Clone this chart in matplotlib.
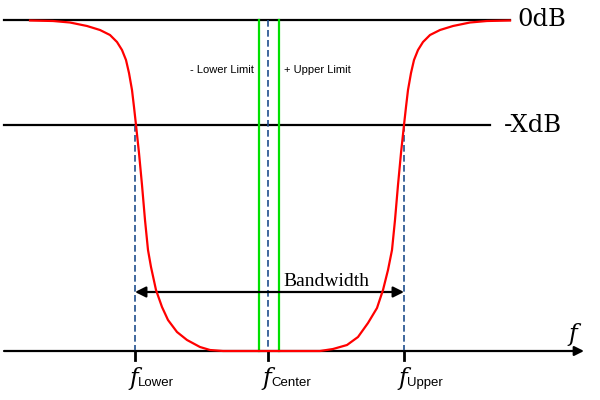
import matplotlib
matplotlib.use("Agg")
import matplotlib.pyplot as plt

# response curve (pixel-like units, y grows downwards)
curve_x = [30, 53, 70, 87, 100, 110, 117, 122, 126, 129, 132, 134, 136, 139,
           142, 145, 148, 151, 156, 162, 168, 177, 187, 200, 210, 223,
           320, 333, 347, 358, 368, 377, 383, 388, 392, 395, 398, 401,
           404, 406, 408, 411, 414, 418, 423, 430, 440, 453, 470, 487, 510]
curve_y = [20.5, 21, 22.5, 26, 30, 35, 42, 50, 60, 73, 90, 107, 125, 153,
           185, 220, 250, 267, 290, 307, 320, 332, 340, 347, 350, 351,
           351, 349, 345, 337, 323, 308, 290, 270, 250, 220, 185, 153,
           125, 107, 90, 73, 60, 50, 42, 35, 30, 26, 22.5, 21, 20.5]

level_names = ["0dB", "-XdB"]
level_y = [20, 125]
level_end = [510, 490]

freq_names = ["Lower", "Center", "Upper"]
freq_x = [135, 268, 404]
limit_x = [259, 279]
limit_names = ["- Lower Limit", "+ Upper Limit"]
axis_y = 351

fig = plt.figure(figsize=(6, 4), dpi=100)
ax = fig.add_axes([0, 0, 1, 1])
ax.set_xlim(0, 600)
ax.set_ylim(400, 0)
ax.axis("off")

# horizontal level lines
for name, y, x1 in zip(level_names, level_y, level_end):
    ax.plot([4, x1], [y, y], color="black", lw=1.6, zorder=1)
ax.text(517, level_y[0], level_names[0], family="DejaVu Serif", fontsize=17.5,
        ha="left", va="center")
ax.text(504, level_y[1], level_names[1], family="DejaVu Serif", fontsize=17.5,
        ha="left", va="center")

# frequency axis with arrow
ax.annotate("", xy=(584, axis_y), xytext=(4, axis_y),
            arrowprops=dict(arrowstyle="-|>", color="black", lw=1.6,
                            mutation_scale=14, shrinkA=0, shrinkB=0))
ax.text(573, 334, "f", family="DejaVu Serif", style="italic", fontsize=17,
        ha="center", va="center")

# limit lines
for x in limit_x:
    ax.plot([x, x], [level_y[0], axis_y], color="#00e000", lw=1.6, zorder=2)
ax.text(254, 70, limit_names[0], family="Liberation Sans", fontsize=8,
        ha="right", va="center")
ax.text(284, 70, limit_names[1], family="Liberation Sans", fontsize=8,
        ha="left", va="center")

# dashed frequency markers, ticks and labels
for name, x in zip(freq_names, freq_x):
    top = level_y[0] if name == "Center" else level_y[1]
    ax.plot([x, x], [top, axis_y], color="#1f4e8c", lw=1.2,
            dashes=(4, 2), zorder=3)
    ax.plot([x, x], [axis_y, 360], color="black", lw=2, zorder=3)
    ax.text(x + 3, 385, "f", family="DejaVu Serif", style="italic",
            fontsize=17, ha="right", va="baseline")
    ax.text(x + 3, 386, name, family="Liberation Sans", fontsize=9.5,
            ha="left", va="baseline")

# the response curve
ax.plot(curve_x, curve_y, color="red", lw=1.6, zorder=4,
        solid_joinstyle="round")

# bandwidth arrow
ax.annotate("", xy=(freq_x[0], 292), xytext=(freq_x[2], 292),
            arrowprops=dict(arrowstyle="<|-|>", color="black", lw=1.6,
                            mutation_scale=16, shrinkA=0, shrinkB=0))
ax.text(326, 281, "Bandwidth", family="Liberation Serif", fontsize=14,
        ha="center", va="center")

fig.savefig("out.png", dpi=100)
